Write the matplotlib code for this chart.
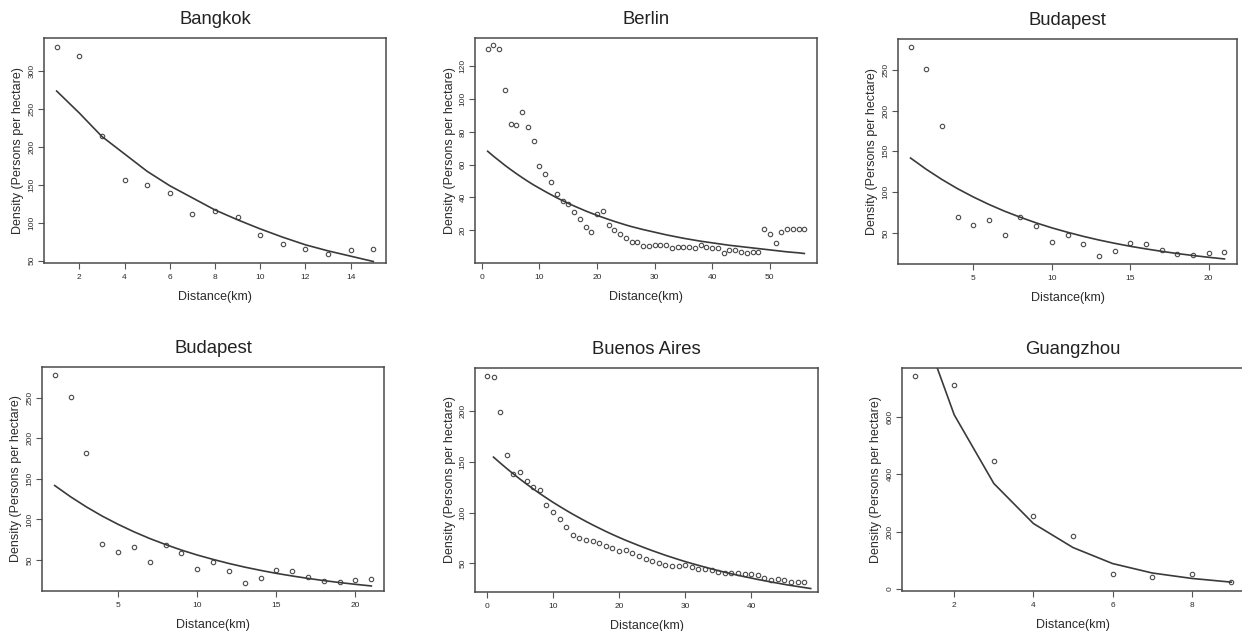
import matplotlib.pyplot as plt

plt.rcParams['font.family'] = ['Liberation Sans', 'DejaVu Sans']

# --- data ---
bangkok_x = list(range(1, 16))
bangkok_obs = [332, 320, 214, 156, 150, 139, 112, 116, 108, 84, 72, 65, 59, 64, 65]
bangkok_fit = [274, 245, 214, 191, 168, 149, 133, 117, 104, 92, 81, 71, 63, 56, 49]

berlin_x = list(range(1, 57))
berlin_obs = [130.6, 132.8, 130.6, 105.4, 85.0, 84.0, 92.0, 83.0, 74.3, 59.4,
              54.3, 49.3, 42.4, 38.1, 36.3, 31.4, 27.1, 21.8, 19.0, 30.2,
              32.0, 23.0, 20.0, 18.0, 15.1, 12.9, 12.9, 10.4, 10.4, 10.9,
              10.7, 10.9, 9.0, 9.8, 9.8, 9.8, 9.0, 10.9, 9.8, 9.0,
              9.0, 5.8, 8.0, 8.0, 7.0, 6.0, 7.0, 6.8, 20.8, 18.0,
              11.9, 19.0, 20.8, 20.8, 20.8, 20.8]
berlin_fit = [68.2, 65.2, 62.4, 59.6, 57.0, 54.5, 52.1, 49.8, 47.6, 45.6,
              43.6, 41.7, 39.8, 38.1, 36.4, 34.8, 33.3, 31.8, 30.4, 29.1,
              27.8, 26.6, 25.4, 24.3, 23.2, 22.2, 21.3, 20.4, 19.6, 18.8,
              18.0, 17.2, 16.5, 15.8, 15.1, 14.5, 13.9, 13.3, 12.8, 12.3,
              11.8, 11.3, 10.8, 10.4, 10.0, 9.6, 9.2, 8.8, 8.4, 8.0,
              7.6, 7.2, 6.8, 6.5, 6.2, 5.8]

budapest_x = list(range(1, 22))
budapest_obs = [277.3, 251.2, 181.4, 70.0, 59.8, 65.9, 48.0, 69.2, 58.2, 38.6,
                47.1, 36.9, 21.8, 28.0, 38.2, 36.9, 28.8, 24.3, 23.1, 25.5, 27.1]
budapest_fit = [141.8, 128.0, 115.5, 104.2, 94.1, 84.9, 76.6, 69.2, 62.4, 56.3,
                50.9, 45.9, 41.4, 37.4, 33.7, 30.5, 27.5, 24.8, 22.4, 20.2, 18.2]

baires_x = list(range(0, 49))
baires_obs = [233.8, 232.8, 199.0, 156.1, 137.8, 139.4, 131.2, 125.3, 122.4, 107.0,
              100.1, 93.9, 85.7, 77.8, 75.2, 72.6, 71.9, 69.7, 67.0, 65.1,
              62.1, 62.8, 60.5, 57.5, 54.6, 52.6, 50.7, 49.0, 47.7, 48.0,
              48.4, 46.1, 44.8, 44.4, 43.4, 42.1, 40.8, 40.5, 40.2, 39.8,
              39.8, 38.9, 35.6, 33.3, 34.6, 33.3, 32.0, 32.0, 32.0]
baires_fit_x = list(range(1, 50))
baires_fit = [154.5, 148.8, 143.3, 138.0, 132.9, 128.0, 123.3, 118.7, 114.4, 110.1,
              106.1, 102.2, 98.4, 94.8, 91.3, 87.9, 84.7, 81.5, 78.5, 75.6,
              72.8, 70.2, 67.6, 65.1, 62.7, 60.4, 58.1, 56.0, 53.9, 51.9,
              50.0, 48.2, 46.4, 44.7, 43.0, 41.4, 39.9, 38.4, 37.0, 35.7,
              34.3, 33.1, 31.8, 30.7, 29.5, 28.4, 27.4, 26.4, 25.4]

guangzhou_x = list(range(1, 10))
guangzhou_obs = [745, 713, 446, 254, 184, 53, 41, 52, 23]
guangzhou_fit = [990, 608, 368, 228, 144, 88, 55, 36, 23]

W, H = 1242, 631
fig = plt.figure(figsize=(W / 100, H / 100), dpi=100)
fig.patch.set_facecolor('white')

ink = '#2b2b2b'

# title, obs x, obs y, fit x, fit y, xlim, ylim, xticks, yticks, box (left, top, right, bottom) px
panels = [
    ('Bangkok', bangkok_x, bangkok_obs, bangkok_x, bangkok_fit,
     (0.44, 15.56), (47, 344), range(2, 15, 2), range(50, 301, 50), (44, 38, 386, 263)),
    ('Berlin', berlin_x, berlin_obs, berlin_x, berlin_fit,
     (-1.2, 58.2), (0, 137.3), range(0, 51, 10), range(20, 121, 20), (475, 38, 817, 263)),
    ('Budapest', budapest_x, budapest_obs, budapest_x, budapest_fit,
     (0.2, 21.8), (12, 287.6), [5, 10, 15, 20], range(50, 251, 50), (898, 39, 1237, 264)),
    ('Budapest', budapest_x, budapest_obs, budapest_x, budapest_fit,
     (0.2, 21.8), (12, 287.6), [5, 10, 15, 20], range(50, 251, 50), (42, 367, 384, 591)),
    ('Buenos Aires', baires_x, baires_obs, baires_fit_x, baires_fit,
     (-1.8, 50.1), (22, 242), range(0, 41, 10), range(50, 201, 50), (475, 368, 818, 592)),
    ('Guangzhou', guangzhou_x, guangzhou_obs, guangzhou_x, guangzhou_fit,
     (0.68, 9.32), (-8, 772), range(2, 9, 2), range(0, 601, 200), (902, 368, 1244, 591)),
]

for title, x, y, fx, fy, xlim, ylim, xt, yt, box in panels:
    l, t, r, b = box
    ax = fig.add_axes([l / W, 1 - b / H, (r - l) / W, (b - t) / H])
    ax.plot(x, y, 'o', mfc='none', mec='#4a4a4a', ms=3.2, mew=0.8)
    ax.plot(fx, fy, '-', color='#3a3a3a', lw=1.2)
    ax.set_xlim(*xlim)
    ax.set_ylim(*ylim)
    ax.set_xticks(list(xt))
    ax.set_yticks(list(yt))
    for s in ax.spines.values():
        s.set_color('#4a4a4a')
        s.set_linewidth(1.1)
    ax.tick_params(direction='out', length=4, width=0.8, color='#555555',
                   labelsize=6, labelcolor=ink)
    ax.tick_params(axis='x', pad=4)
    ax.tick_params(axis='y', labelrotation=90, pad=2)
    for lab in ax.get_yticklabels():
        lab.set_va('center')
    ax.set_title(title, fontsize=13.3, color='#222222', pad=10)
    ax.set_xlabel('Distance(km)', fontsize=9, color=ink, labelpad=7)
    ax.set_ylabel('Density (Persons per hectare)', fontsize=9, color=ink, labelpad=3)

fig.savefig('out.png', dpi=100)
